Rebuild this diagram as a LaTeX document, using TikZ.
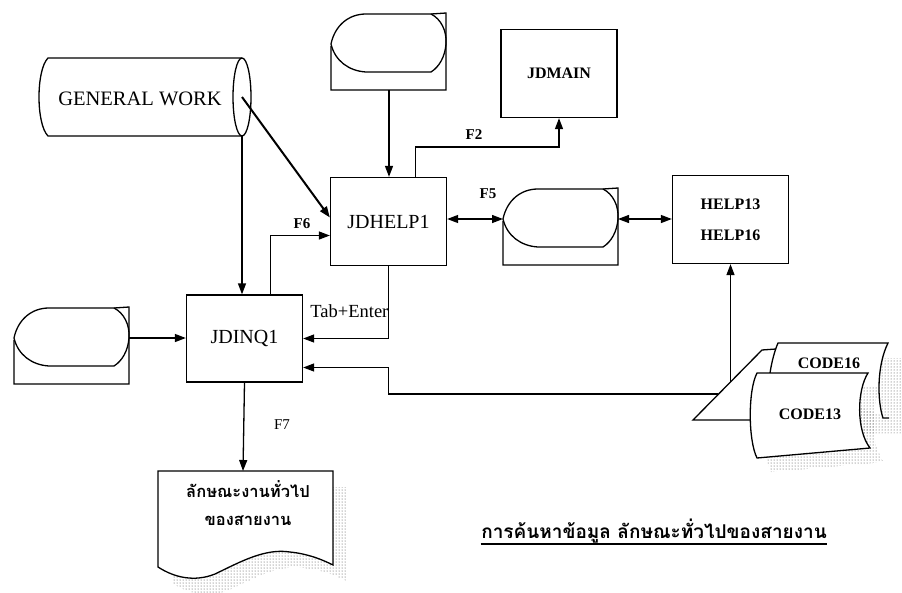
\documentclass[tikz,border=0pt]{standalone}
\usepackage{fontspec}
\setmainfont{Liberation Serif}
\newfontfamily\thaifont[Script=Thai]{Loma}
\usetikzlibrary{arrows.meta,patterns,calc}
\begin{document}
\begin{tikzpicture}[x=1pt,y=-1pt,line width=1.3pt,
  tip/.tip={Triangle[length=11pt,width=8pt]},
  arr/.style={-tip},
  darr/.style={tip-tip},
  box/.style={draw,rectangle,minimum width=116pt,minimum height=88pt,inner sep=0pt,
    font=\fontsize{20}{24}\selectfont},
  lbl/.style={inner sep=0pt,font=\fontsize{15}{18}\selectfont\bfseries},
  shadedots/.style={draw=none,pattern=dots,pattern color=black!75},
  display/.pic={
    \draw (0,31) .. controls (4,12) and (18,1) .. (35,1) -- (100,1)
      .. controls (110,6) and (116,18) .. (115,31)
      .. controls (114,44) and (108,54) .. (100,59) -- (35,59)
      .. controls (18,58) and (4,48) .. (0,31);
    \draw (100,1) -- (115,0) -- (115,77) -- (0,77) -- (0,33);
    \coordinate (-l) at (0,31);
    \coordinate (-r) at (115,31);
    \coordinate (-b) at (58,77);
  }]
\useasboundingbox (0,0) rectangle (902,592);

% GENERAL WORK cylinder
\draw (242,58) -- (48,58) .. controls (36,70) and (36,124) .. (48,136) -- (242,136);
\draw (242,97) ellipse [x radius=9, y radius=39];
\node[inner sep=0pt,font=\fontsize{20.5}{24}\selectfont] (gw) at (140,99) {GENERAL WORK};
\coordinate (gwc) at (242,97);
\coordinate (gwb) at (242,136);

% displays
\pic (d1) at (331,13) {display};
\pic (d2) at (503,188) {display};
\pic (d3) at (14,307) {display};

% boxes
\node[box] (jdhelp) at (388.5,221.5) {JDHELP1};
\node[box,font=\fontsize{16}{19}\selectfont\bfseries] (jdmain) at (559,73.5) {JDMAIN};
\node[box,font=\fontsize{16}{31}\selectfont\bfseries,align=center] (help) at (730.5,219.5) {HELP13\\HELP16};
\node[box,minimum height=87pt] (jdinq) at (244.5,338.5) {JDINQ1};

% document with shadow
\fill[shadedots] (172,487) -- (347,487) -- (347,581)
  .. controls (339,577) and (324,570) .. (304,568)
  .. controls (279,564) and (254,578) .. (229,590)
  .. controls (209,598) and (189,594) .. (172,583) -- cycle;
\draw[fill=white] (158,471) -- (333,471) -- (333,565)
  .. controls (325,561) and (310,554) .. (290,552)
  .. controls (265,548) and (240,562) .. (215,574)
  .. controls (195,582) and (175,578) .. (158,567) -- cycle;
\node[inner sep=0pt,font=\thaifont\bfseries\fontsize{16.5}{28}\selectfont,align=center] (doc) at (248,503)
  {ลักษณะงานทั่วไป\\ของสายงาน};
\coordinate (doctop) at (243,471);

% code cards
\fill[shadedots] (784,388) .. controls (786,375) and (789,365) .. (792,358) -- (902,358)
  -- (902,433) -- (784,433) -- cycle;
\draw[fill=white] (770,373) .. controls (772,360) and (775,350) .. (778,343) -- (888,343)
  .. controls (877,365) and (877,400) .. (883,418) -- (889,418);
\node[inner sep=0pt,font=\fontsize{16}{19}\selectfont\bfseries] (c16) at (829,363) {CODE16};
\draw (752,420) -- (693,420) -- (762,350) -- (776,349);
\fill[shadedots] (771,387) -- (882,387) .. controls (871,404) and (870,444) .. (884,462)
  -- (771,472) .. controls (762,454) and (762,404) .. (771,387) -- cycle;
\draw[fill=white] (757,373) -- (868,373) .. controls (857,390) and (856,430) .. (870,448)
  -- (757,458) .. controls (748,440) and (748,390) .. (757,373) -- cycle;
\node[inner sep=0pt,font=\fontsize{16}{19}\selectfont\bfseries] (c13) at (810,414) {CODE13};
\coordinate (c1) at (718,394);
\coordinate (c2) at (730.5,382);

% connectors
\draw[arr] (d1-b) -- (d1-b |- jdhelp.north);
\draw[arr,line width=2pt] (gwc) -- ([yshift=4pt]jdhelp.west);
\draw[arr] (gwb) -- (gwb |- jdinq.north);
\draw[arr] ([xshift=26pt]jdinq.north) |- ([yshift=-14pt]jdhelp.west);
\draw[arr] ([xshift=27pt]jdhelp.north) -- ++(0,-30) -| (jdmain.south);
\draw[darr] (jdhelp.east |- d2-l) -- (d2-l);
\draw[darr] (d2-r) -- (d2-r -| help.west);
\draw[arr] (d3-r) -- (d3-r -| jdinq.west);
\draw[arr] (jdhelp.south) |- (jdinq.east);
\draw[arr] (c1) -- (c1 -| jdhelp.south) |- ([yshift=-29pt]jdinq.east);
\draw[arr] (c2) -- (c2 |- help.south);
\draw[arr] (jdinq.south) -- (doctop);

% labels
\node[lbl] (f2) at (474,135) {F2};
\node[lbl] (f5) at (488,194) {F5};
\node[lbl] (f6) at (302,224) {F6};
\node[lbl,font=\fontsize{15}{18}\selectfont] (f7) at (282,425) {F7};
\node[inner sep=0pt,anchor=east,font=\fontsize{18.5}{22}\selectfont] (tab) at (389,311) {Tab+Enter};

% title
\node[inner sep=0pt,anchor=base,font=\thaifont\bfseries\fontsize{19}{24}\selectfont] (title) at (654,538)
  {การค้นหาข้อมูล ลักษณะทั่วไปของสายงาน};
\draw[line width=1.3pt] ([yshift=-6pt]title.base west) -- ([yshift=-6pt]title.base east);
\end{tikzpicture}
\end{document}
